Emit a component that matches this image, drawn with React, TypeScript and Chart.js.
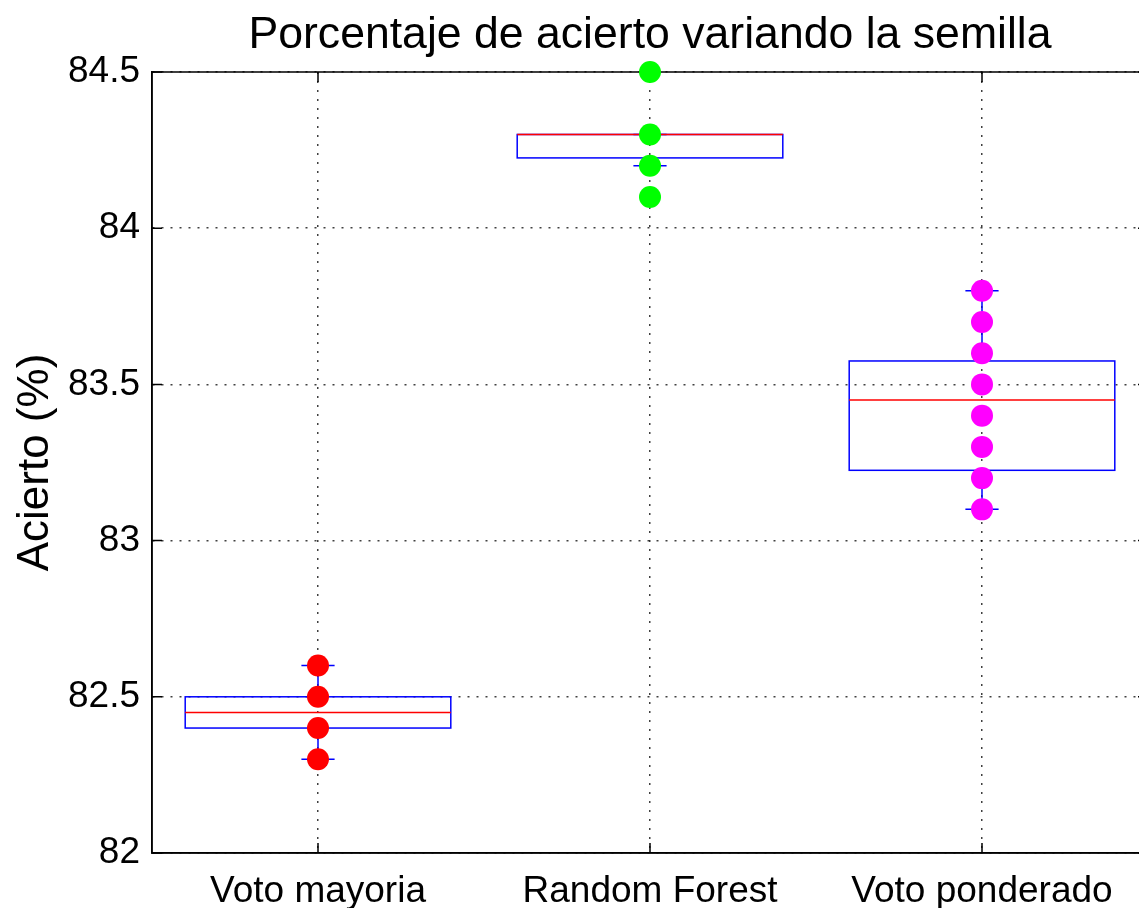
import React, { useEffect, useRef } from 'react';
import { Chart, registerables } from 'chart.js';
Chart.register(...registerables);

const categories = ['Voto mayoria', 'Random Forest', 'Voto ponderado'];
const votoMayoria = [82.3, 82.4, 82.5, 82.6];
const randomForest = [84.1, 84.2, 84.3, 84.5];
const votoPonderado = [83.1, 83.2, 83.3, 83.4, 83.5, 83.6, 83.7, 83.8];
const seriesValues = [votoMayoria, randomForest, votoPonderado];
const boxQ1 = [82.4, 84.225, 83.225];
const boxMedian = [82.45, 84.3, 83.45];
const boxQ3 = [82.5, 84.3, 83.575];
const whiskerLow = [82.3, 84.2, 83.1];
const whiskerHigh = [82.6, 84.3, 83.8];
const yTicks = [82, 82.5, 83, 83.5, 84, 84.5];
const pointColors = ['#ff0000', '#00ff00', '#ff00ff'];
const titleText = 'Porcentaje de acierto variando la semilla';

const FONT = "'Liberation Sans', Arial, sans-serif";
const CANVAS_W = 1159;

const boxPlugin = {
  id: 'boxPlugin',
  beforeDatasetsDraw(chart: any) {
    const { ctx, chartArea } = chart;
    const xs = chart.scales.x;
    const ys = chart.scales.y;
    ctx.save();
    // title centered over plot area
    ctx.fillStyle = '#000';
    ctx.font = `44.6px ${FONT}`;
    ctx.textAlign = 'center';
    ctx.textBaseline = 'alphabetic';
    ctx.fillText(titleText, (chartArea.left + chartArea.right) / 2, 48);
    // frame
    ctx.strokeStyle = '#000';
    ctx.lineWidth = 1.5;
    ctx.strokeRect(chartArea.left, chartArea.top, chartArea.right - chartArea.left, chartArea.bottom - chartArea.top);
    // inward tick marks
    const tl = 10;
    ctx.beginPath();
    yTicks.forEach((v) => {
      const py = ys.getPixelForValue(v);
      ctx.moveTo(chartArea.left, py);
      ctx.lineTo(chartArea.left + tl, py);
      ctx.moveTo(chartArea.right, py);
      ctx.lineTo(chartArea.right - tl, py);
    });
    categories.forEach((_, i) => {
      const px = xs.getPixelForValue(i + 1);
      ctx.moveTo(px, chartArea.bottom);
      ctx.lineTo(px, chartArea.bottom - tl);
      ctx.moveTo(px, chartArea.top);
      ctx.lineTo(px, chartArea.top + tl);
    });
    ctx.stroke();
    // boxes
    categories.forEach((_, i) => {
      const c = i + 1;
      const cx = xs.getPixelForValue(c);
      const bl = xs.getPixelForValue(c - 0.4);
      const br = xs.getPixelForValue(c + 0.4);
      const cl = xs.getPixelForValue(c - 0.05);
      const cr = xs.getPixelForValue(c + 0.05);
      const yq1 = ys.getPixelForValue(boxQ1[i]);
      const yq3 = ys.getPixelForValue(boxQ3[i]);
      const ymed = ys.getPixelForValue(boxMedian[i]);
      const ylo = ys.getPixelForValue(whiskerLow[i]);
      const yhi = ys.getPixelForValue(whiskerHigh[i]);
      ctx.strokeStyle = '#0000ff';
      ctx.lineWidth = 1.5;
      ctx.beginPath();
      ctx.moveTo(cx, ylo);
      ctx.lineTo(cx, yq1);
      ctx.moveTo(cx, yq3);
      ctx.lineTo(cx, yhi);
      ctx.moveTo(cl, ylo);
      ctx.lineTo(cr, ylo);
      ctx.moveTo(cl, yhi);
      ctx.lineTo(cr, yhi);
      ctx.stroke();
      ctx.strokeRect(bl, yq3, br - bl, yq1 - yq3);
      ctx.strokeStyle = '#ff0000';
      ctx.beginPath();
      ctx.moveTo(bl, ymed);
      ctx.lineTo(br, ymed);
      ctx.stroke();
    });
    ctx.restore();
  },
};

export default function App() {
  const ref = useRef<HTMLCanvasElement | null>(null);
  useEffect(() => {
    if (!ref.current) return;
    const datasets = seriesValues.map((vals, i) => ({
      label: categories[i],
      data: vals.map((v) => ({ x: i + 1, y: v })),
      backgroundColor: pointColors[i],
      borderColor: pointColors[i],
      pointRadius: 11,
      pointBorderWidth: 0,
      clip: false as any,
    }));
    const chart = new Chart(ref.current, {
      type: 'scatter',
      data: { datasets },
      options: {
        animation: false,
        responsive: false,
        devicePixelRatio: 1,
        layout: { padding: { left: 0, right: 2, top: 72, bottom: 0 } },
        plugins: {
          legend: { display: false },
          tooltip: { enabled: false },
          title: { display: false },
        },
        scales: {
          x: {
            type: 'linear',
            min: 0.5,
            max: 3.5,
            afterBuildTicks: (s: any) => {
              s.ticks = categories.map((_, i) => ({ value: i + 1 }));
            },
            afterFit: (s: any) => {
              s.height = 55;
            },
            ticks: {
              autoSkip: false,
              maxRotation: 0,
              padding: 17,
              color: '#000',
              font: { family: FONT, size: 37 },
              callback: (v: any) => categories[Math.round(Number(v)) - 1] ?? '',
            },
            grid: { color: 'rgba(0,0,0,0.75)', lineWidth: 1.5, drawTicks: false },
            border: { display: true, color: '#000', width: 1.5, dash: [2, 7] },
          },
          y: {
            min: 82,
            max: 84.5,
            afterBuildTicks: (s: any) => {
              s.ticks = yTicks.map((v) => ({ value: v }));
            },
            afterFit: (s: any) => {
              s.width = 152;
            },
            ticks: {
              padding: 12,
              color: '#000',
              font: { family: FONT, size: 37 },
              callback: (v: any) => String(v),
            },
            title: {
              display: true,
              text: 'Acierto (%)',
              color: '#000',
              font: { family: FONT, size: 44 },
              padding: { top: 9, bottom: 0 },
            },
            grid: { color: 'rgba(0,0,0,0.75)', lineWidth: 1.5, drawTicks: false },
            border: { display: true, color: '#000', width: 1.5, dash: [2, 7] },
          },
        },
      },
      plugins: [boxPlugin],
    });
    return () => chart.destroy();
  }, []);
  return (
    <div style={{ position: 'fixed', left: 0, top: 0, width: CANVAS_W, height: 908, background: '#fff' }}>
      <canvas ref={ref} width={CANVAS_W} height={908} style={{ width: CANVAS_W, height: 908 }} />
    </div>
  );
}
